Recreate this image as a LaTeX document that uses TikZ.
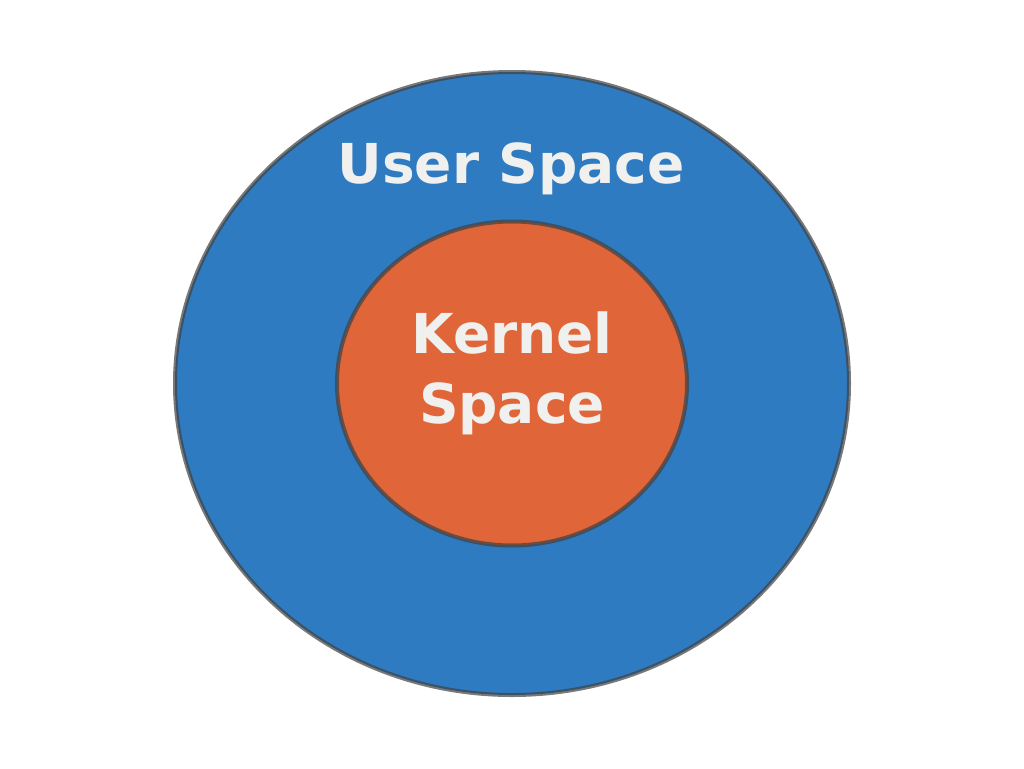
\documentclass[tikz,border=0pt]{standalone}
\usepackage{fontspec}
\setmainfont{DejaVu Sans}
\definecolor{userblue}{HTML}{2E7BC1}
\definecolor{kernorange}{HTML}{E0663A}
\definecolor{labelgray}{HTML}{F0F0EE}
\definecolor{rimgray}{HTML}{404040}
\begin{document}
\begin{tikzpicture}[x=1pt,y=-1pt,
  ring/.style={draw=rimgray,draw opacity=0.7,line width=4pt},
  lbl/.style={text=labelgray,font=\bfseries\fontsize{55}{70}\selectfont,align=center,inner sep=0pt}]
\useasboundingbox (0,0) rectangle (1024,768);
\draw[ring,fill=userblue] (512,383.5) ellipse [x radius=337, y radius=311.5];
\draw[ring,fill=kernorange] (512,383.5) ellipse [x radius=175, y radius=162];
\node[lbl,anchor=base] (user) at (511,183) {User Space};
\node[lbl,anchor=base] (kern1) at (512,353) {Kernel};
\node[lbl,anchor=base] (kern2) at (512,423) {Space};
\end{tikzpicture}
\end{document}
